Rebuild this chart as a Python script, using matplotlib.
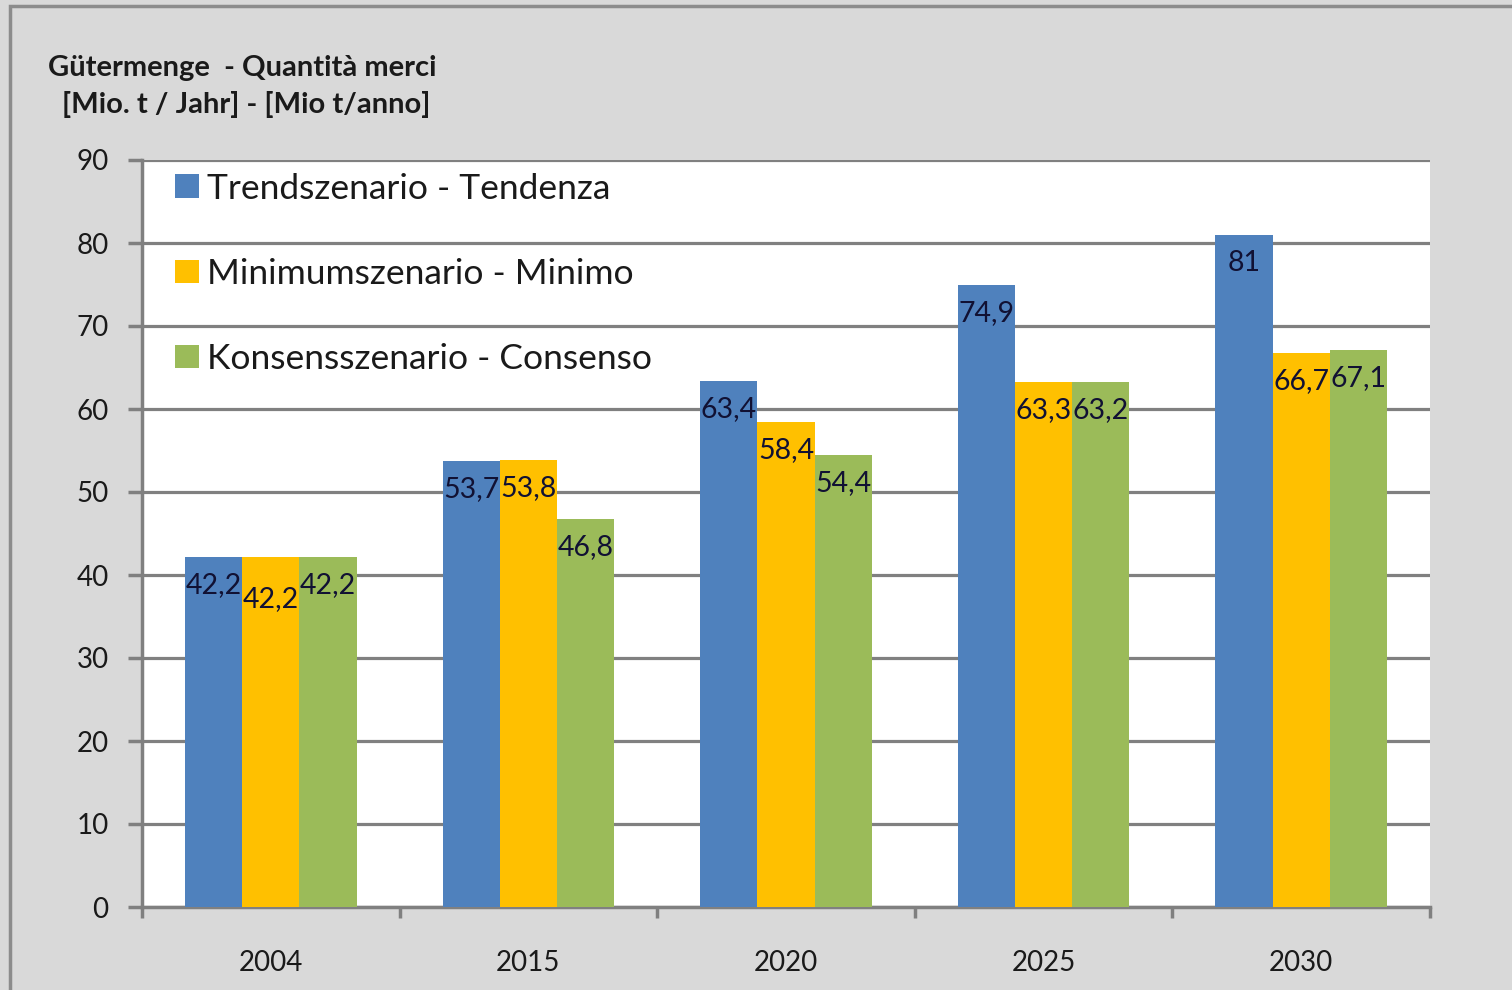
import matplotlib
matplotlib.use("Agg")
import matplotlib.pyplot as plt
import numpy as np
from matplotlib.patches import Rectangle

# --- Data
years = ["2004", "2015", "2020", "2025", "2030"]
trend = [42.2, 53.7, 63.4, 74.9, 81]
minimum = [42.2, 53.8, 58.4, 63.3, 66.7]
konsens = [42.2, 46.8, 54.4, 63.2, 67.1]
series_names = ["Trendszenario - Tendenza", "Minimumszenario - Minimo", "Konsensszenario - Consenso"]
colors = ["#4F81BD", "#FFC000", "#9BBB59"]

plt.rcParams['font.family'] = ['Lato', 'DejaVu Sans']

fig = plt.figure(figsize=(15.12, 9.9), dpi=100)
fig.patch.set_facecolor("#D9D9D9")
# outer chart border (left/top visible)
fig.patches.append(Rectangle((10 / 1512, -0.5), 2.0, 0.5 + 1 - 6 / 990, transform=fig.transFigure,
                             fill=False, edgecolor="#8C8C8C", linewidth=2.5))

ax = fig.add_axes([142 / 1512, 1 - 907 / 990, (1430 - 142) / 1512, (907 - 160) / 990])
ax.set_facecolor("white")

x = np.arange(len(years))
w = 0.222
all_series = [trend, minimum, konsens]
for i, (vals, name, c) in enumerate(zip(all_series, series_names, colors)):
    bars = ax.bar(x + (i - 1) * w, vals, width=w, color=c, label=name, zorder=3)
    for j, (b, v) in enumerate(zip(bars, vals)):
        lbl = f"{v:g}".replace(".", ",")
        dy = -42 if (i == 1 and j == 0) else -28
        ax.annotate(lbl, (b.get_x() + b.get_width() / 2, v), xytext=(0, dy),
                    textcoords="offset pixels", ha="center", va="center",
                    fontsize=20.5, color="#111133", zorder=4)

ax.set_xlim(-0.5, len(years) - 0.5)
ax.set_ylim(0, 90)
ax.set_yticks(np.arange(0, 91, 10))
ax.yaxis.grid(True, color="#808080", linewidth=2.3, zorder=1)
ax.set_axisbelow(True)

ax.set_xticks(x)
ax.set_xticklabels(years)
ax.set_xticks(np.arange(-0.5, len(years)), minor=True)
ax.tick_params(axis="x", which="major", length=0, labelsize=20, pad=31, labelcolor="#1a1a1a")
ax.tick_params(axis="x", which="minor", length=8, width=2.5, color="#808080", direction="out")
ax.tick_params(axis="y", length=10, width=2.5, color="#808080", labelsize=20, pad=14, labelcolor="#1a1a1a")

for s in ["top", "right"]:
    ax.spines[s].set_visible(False)
for s in ["left", "bottom"]:
    ax.spines[s].set_color("#808080")
    ax.spines[s].set_linewidth(2.5)

leg = ax.legend(loc="upper left", frameon=False, fontsize=25.5, handlelength=0.65, handleheight=0.65,
                handletextpad=0.25, labelspacing=1.5, bbox_to_anchor=(0.015, 1.002), borderaxespad=0.0)
for t in leg.get_texts():
    t.set_color("#1a1a1a")

fig.text(48 / 1512, 1 - 68 / 990, "Gütermenge  - Quantità merci", fontsize=21, fontweight="bold",
         color="#1a1a1a", va="center", ha="left")
fig.text(62 / 1512, 1 - 105 / 990, "[Mio. t / Jahr] - [Mio t/anno]", fontsize=21, fontweight="bold",
         color="#1a1a1a", va="center", ha="left")

fig.savefig("out.png", dpi=100, facecolor=fig.get_facecolor())
